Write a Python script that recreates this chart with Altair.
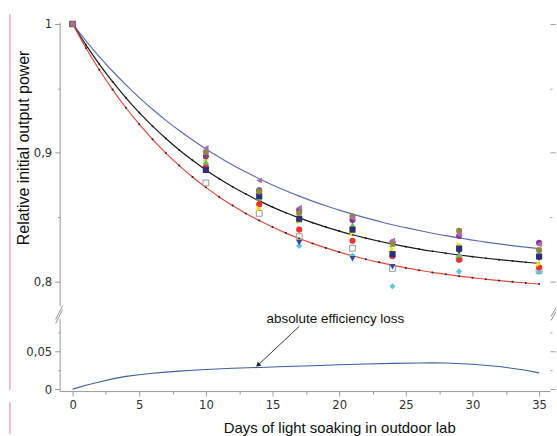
import altair as alt
import pandas as pd

# ---------------- data ----------------
fit_days = list(range(36))
upper_fit = [1.0, 0.9869, 0.9747, 0.9633, 0.9528, 0.9429, 0.9338, 0.9252, 0.9173, 0.9099,
             0.9030, 0.8966, 0.8906, 0.8851, 0.8799, 0.8751, 0.8706, 0.8664, 0.8625, 0.8589,
             0.8555, 0.8524, 0.8495, 0.8468, 0.8442, 0.8419, 0.8397, 0.8376, 0.8357, 0.8339,
             0.8323, 0.8307, 0.8293, 0.8280, 0.8268, 0.8256]
mid_fit = [1.0, 0.9838, 0.9689, 0.9552, 0.9427, 0.9312, 0.9207, 0.9111, 0.9022, 0.8942,
           0.8867, 0.8799, 0.8737, 0.8680, 0.8627, 0.8579, 0.8535, 0.8495, 0.8458, 0.8424,
           0.8393, 0.8364, 0.8338, 0.8314, 0.8292, 0.8272, 0.8253, 0.8236, 0.8221, 0.8207,
           0.8194, 0.8182, 0.8171, 0.8161, 0.8151, 0.8143]
lower_fit = [1.0, 0.9814, 0.9645, 0.9491, 0.9350, 0.9222, 0.9105, 0.8998, 0.8901, 0.8813,
             0.8732, 0.8658, 0.8591, 0.8530, 0.8475, 0.8424, 0.8377, 0.8335, 0.8297, 0.8262,
             0.8230, 0.8201, 0.8174, 0.8150, 0.8128, 0.8107, 0.8089, 0.8072, 0.8057, 0.8043,
             0.8031, 0.8019, 0.8009, 0.7999, 0.7990, 0.7982]

loss_days = [0, 1, 2, 3, 4, 5, 6, 7, 8, 9, 10, 12, 14, 16, 18, 20, 22, 24, 26, 27, 28, 30, 32, 34, 35]
loss_vals = [0.0, 0.0050, 0.0095, 0.0135, 0.0168, 0.0190, 0.0210, 0.0225, 0.0238, 0.0250,
             0.0260, 0.0275, 0.0287, 0.0300, 0.0310, 0.0323, 0.0333, 0.0340, 0.0346, 0.0347,
             0.0345, 0.0330, 0.0300, 0.0250, 0.0215]

meas_days = [0, 10, 14, 17, 21, 24, 29, 35]
series_order = ["G", "H", "J", "F", "E", "I", "D", "C", "B", "A"]
series_vals = {
    "A": [1.0, 0.9037, 0.8785, 0.8574, 0.8495, 0.8320, 0.8365, 0.8290],
    "B": [1.0, 0.9006, 0.8700, 0.8535, 0.8507, 0.8300, 0.8394, 0.8245],
    "C": [1.0, 0.8973, 0.8710, 0.8556, 0.8478, 0.8305, 0.8355, 0.8301],
    "D": [1.0, 0.8867, 0.8664, 0.8489, 0.8404, 0.8214, 0.8257, 0.8195],
    "E": [1.0, 0.8950, 0.8566, 0.8470, 0.8378, 0.8253, 0.8286, 0.8137],
    "F": [1.0, 0.8890, 0.8600, 0.8404, 0.8317, 0.8198, 0.8170, 0.8111],
    "G": [1.0, 0.8767, 0.8530, 0.8350, 0.8260, 0.8103, 0.8180, 0.8085],
    "H": [1.0, 0.8917, 0.8640, 0.8278, 0.8203, 0.7964, 0.8080, 0.8075],
    "I": [1.0, 0.8930, 0.8650, 0.8480, 0.8440, 0.8290, 0.8206, 0.8210],
    "J": [1.0, 0.8860, 0.8640, 0.8303, 0.8178, 0.8116, 0.8230, 0.8180],
}

ann_text = ["absolute efficiency loss"]
ann_day = [14.55]
ann_val = [0.0921]
arrow_from_day = [17.0]
arrow_from_val = [0.083]
arrow_to_day = [13.9]
arrow_to_val = [0.0316]

# ---------------- styles ----------------
styles = {
    "A": ("#b565b5", "triangle-left", True),
    "B": ("#8b8b3a", "circle", True),
    "C": ("#7d3c8c", "circle", True),
    "D": ("#2d2f7a", "square", True),
    "E": ("#f0e020", "triangle-right", True),
    "F": ("#ee3333", "circle", True),
    "G": ("#999999", "square", False),
    "H": ("#5cc5e0", "diamond", True),
    "I": ("#6cc04a", "triangle-up", True),
    "J": ("#35479a", "triangle-down", True),
}

NARROW = "Liberation Sans Narrow, DejaVu Sans Condensed, Arial Narrow, sans-serif"
SANS = "Liberation Sans, Arial, sans-serif"
AX_GREY = "#999999"

W = 493
H_TOP = 285
H_BOT = 73

x_scale = alt.Scale(domain=[-0.97, 35.82], nice=False, zero=False)
y_top_scale = alt.Scale(domain=[0.7815, 1.0015], nice=False, zero=False)
y_bot_scale = alt.Scale(domain=[-0.0026, 0.0935], nice=False, zero=False)

top_minor = "abs(datum.value-0.85)<0.001 || abs(datum.value-0.95)<0.001"
left_top_axis = alt.Axis(
    values=[0.8, 0.85, 0.9, 0.95, 1.0], format=".2~f",
    labelExpr=f"({top_minor}) ? '' : replace(datum.label, '.', ',')",
    tickSize={"condition": {"test": top_minor, "value": 2}, "value": 5},
    title="Relative initial output power", titleFont=SANS, titleFontSize=16,
    titleFontWeight="normal", titleColor="#111111", titleX=-36, titleY=126,
    titleBaseline="middle", titleAngle=-90, titleAlign="center",
    labelFont=NARROW, labelFontSize=13, labelColor="#333333", labelPadding=3,
    domainColor=AX_GREY, tickColor=AX_GREY, grid=False,
)
right_top_axis = alt.Axis(
    orient="right", values=[0.8, 0.85, 0.9, 0.95, 1.0], labels=False, domain=False,
    tickSize={"condition": {"test": top_minor, "value": 2}, "value": 5},
    tickColor=AX_GREY, title=None, grid=False,
)
bot_minor = "abs(datum.value-0.025)<0.001 || abs(datum.value-0.075)<0.001"
left_bot_axis = alt.Axis(
    values=[0, 0.025, 0.05, 0.075], format=".3~f",
    labelExpr=f"({bot_minor}) ? '' : replace(datum.label, '.', ',')",
    tickSize={"condition": {"test": bot_minor, "value": 2}, "value": 5},
    title=None, labelFont=NARROW, labelFontSize=13, labelColor="#333333", labelPadding=3,
    domainColor=AX_GREY, tickColor=AX_GREY, grid=False,
)
right_bot_axis = alt.Axis(
    orient="right", values=[0, 0.025, 0.05, 0.075], labels=False, domain=False,
    tickSize={"condition": {"test": bot_minor, "value": 2}, "value": 5},
    tickColor=AX_GREY, title=None, grid=False,
)
x_minor = "datum.value % 5 != 0"
x_axis = alt.Axis(
    values=[v / 2 for v in range(0, 71, 5)], format="~g",
    labelExpr=f"({x_minor}) ? '' : datum.label",
    tickSize={"condition": {"test": x_minor, "value": 3}, "value": 5},
    title="Days of light soaking in outdoor lab", titleFont=SANS, titleFontSize=15,
    titleFontWeight="normal", titleColor="#111111", titleX=281, titleY=37,
    titleBaseline="middle", titleAlign="center",
    labelFont=NARROW, labelFontSize=13, labelColor="#333333", labelPadding=3,
    domainColor=AX_GREY, tickColor=AX_GREY, grid=False,
)

# ---------------- top panel ----------------
fit_df = pd.DataFrame({"day": fit_days, "upper": upper_fit, "mid": mid_fit, "lower": lower_fit})

def xenc(axis=None):
    return alt.X("day:Q", scale=x_scale, axis=axis)

def ytop(field):
    return alt.Y(f"{field}:Q", scale=y_top_scale, axis=left_top_axis)

deco = pd.DataFrame({"k": [0]})
red_edge = alt.Chart(deco).mark_rule(color="#e88a8a", strokeWidth=1).encode(
    x=alt.value(-50), y=alt.value(-8), y2=alt.value(370))
red_edge2 = alt.Chart(deco).mark_rule(color="#e88a8a", strokeWidth=1).encode(
    x=alt.value(-50), y=alt.value(382), y2=alt.value(414))

upper_line = alt.Chart(fit_df).mark_line(color="#5a6eb4", strokeWidth=1.2, interpolate="monotone").encode(
    x=xenc(), y=ytop("upper"))
mid_line = alt.Chart(fit_df).mark_line(color="#1a1a1a", strokeWidth=1.2, interpolate="monotone").encode(
    x=xenc(), y=ytop("mid"))
lower_line = alt.Chart(fit_df).mark_line(color="#e8463c", strokeWidth=1.2, interpolate="monotone").encode(
    x=xenc(), y=ytop("lower"))
mid_dots = alt.Chart(fit_df).mark_circle(color="#222222", size=4, opacity=1).encode(
    x=xenc(), y=ytop("mid"))
lower_dots = alt.Chart(fit_df).mark_circle(color="#222222", size=4, opacity=1).encode(
    x=xenc(), y=ytop("lower"))

point_layers = []
for name in series_order:
    color, shape, filled = styles[name]
    df = pd.DataFrame({"day": meas_days, "val": series_vals[name]})
    if filled:
        mk = alt.Chart(df).mark_point(shape=shape, filled=True, color=color, size=38, opacity=1)
    else:
        mk = alt.Chart(df).mark_point(shape=shape, filled=False, color=color, size=34,
                                      strokeWidth=1, opacity=1)
    point_layers.append(mk.encode(x=xenc(), y=ytop("val")))

main_top = alt.layer(upper_line, mid_line, lower_line, mid_dots, lower_dots, *point_layers,
                     red_edge, red_edge2)
right_top = alt.Chart(fit_df).mark_line(opacity=0).encode(
    x=xenc(), y=alt.Y("upper:Q", scale=y_top_scale, axis=right_top_axis))
top = alt.layer(main_top, right_top).resolve_scale(y="independent").properties(width=W, height=H_TOP)

# ---------------- bottom panel ----------------
loss_df = pd.DataFrame({"day": loss_days, "loss": loss_vals})

def ybot(field, axis=left_bot_axis):
    return alt.Y(f"{field}:Q", scale=y_bot_scale, axis=axis)

loss_line = alt.Chart(loss_df).mark_line(color="#3f5f9f", strokeWidth=1.1).encode(
    x=xenc(x_axis), y=ybot("loss"))

ann_df = pd.DataFrame({"day": ann_day, "val": ann_val, "label": ann_text})
ann = alt.Chart(ann_df).mark_text(align="left", baseline="middle", font=SANS, fontSize=13.5,
                                   color="#111111").encode(
    x=xenc(x_axis), y=ybot("val"), text="label:N")

arrow_df = pd.DataFrame({"d1": arrow_from_day, "v1": arrow_from_val,
                         "d2": arrow_to_day, "v2": arrow_to_val})
arrow = alt.Chart(arrow_df).mark_rule(color="#222222", strokeWidth=0.9).encode(
    x=alt.X("d1:Q", scale=x_scale, axis=x_axis), x2="d2:Q",
    y=alt.Y("v1:Q", scale=y_bot_scale, axis=left_bot_axis), y2="v2:Q")
head = alt.Chart(arrow_df).mark_point(shape="triangle-up", filled=True, color="#222222",
                                      size=28, angle=227, opacity=1).encode(
    x=alt.X("d2:Q", scale=x_scale, axis=x_axis),
    y=alt.Y("v2:Q", scale=y_bot_scale, axis=left_bot_axis))

brk = []
for (x1, y1, x2, y2) in [(-4, 1, 3, -13), (-4, 5, 3, -9), (494, -2, 499, -11), (494, 2, 499, -7)]:
    brk.append(alt.Chart(deco).mark_rule(color="#888888", strokeWidth=0.9).encode(
        x=alt.value(x1), y=alt.value(y1), x2=alt.value(x2), y2=alt.value(y2)))

main_bot = alt.layer(loss_line, arrow, head, ann, *brk)
right_bot = alt.Chart(loss_df).mark_line(opacity=0).encode(
    x=xenc(x_axis), y=alt.Y("loss:Q", scale=y_bot_scale, axis=right_bot_axis))
bottom = alt.layer(main_bot, right_bot).resolve_scale(y="independent").properties(width=W, height=H_BOT)

chart = alt.vconcat(top, bottom, spacing=13, bounds="flush").properties(
    padding={"left": 9, "top": 12, "right": 0, "bottom": 0},
    background="white",
).configure_view(strokeWidth=0)

chart.save("out.html", embed_options={"renderer": "svg", "actions": False})
